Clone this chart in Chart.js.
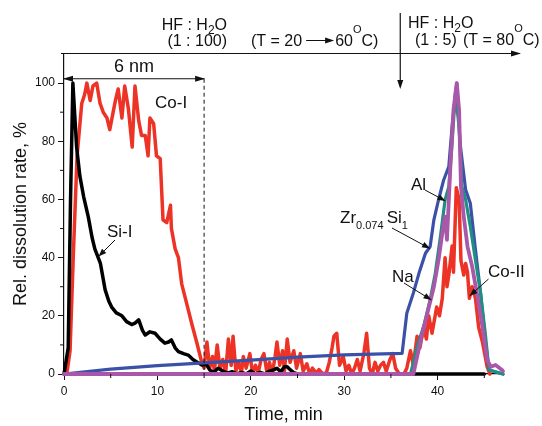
<!DOCTYPE html>
<html><head><meta charset="utf-8">
<script src="https://cdn.jsdelivr.net/npm/chart.js@4.4.1/dist/chart.umd.min.js"></script>
<style>html,body{margin:0;padding:0;background:#fff}canvas{display:block}</style>
</head><body>
<canvas id="c" width="542" height="426"></canvas>
<script>
// ---- data (time in min, relative dissolution rate in %) ----
const xTicks = [0, 10, 20, 30, 40];
const xMinorTicks = [5, 15, 25, 35, 45];
const yTicks = [0, 20, 40, 60, 80, 100];
const yMinorTicks = [10, 30, 50, 70, 90];

const siTime = [0, 0.45, 0.7, 0.95, 1.35, 1.7, 2.1, 2.6, 3.0, 3.3,
  3.9, 4.4, 4.8, 5.1, 5.6, 6.2, 6.7, 7.25, 7.6, 8.0,
  8.4, 8.7, 9.2, 9.75, 10.3, 10.8, 11.2, 11.5, 11.9, 12.25,
  12.8, 13.3, 13.8, 14.3, 14.75, 15.2, 15.6, 16.0, 16.5, 17.0,
  17.5, 18.0, 18.5, 19.0, 19.5, 20.0, 20.5, 21.0, 21.5, 22.0,
  22.5, 22.8, 23.2, 23.6, 23.9, 24.2, 24.6, 25.0, 45.0];
const siRate = [0, 9, 60, 100, 78, 68, 61, 54, 47, 43,
  38, 29, 25, 23, 21, 20, 18, 17, 17.5, 18.6,
  15, 13.4, 14.5, 14, 12, 10.6, 11, 11.7, 9, 7.7,
  7, 6.5, 5, 4, 3.1, 3.5, 1.4, 0.5, 2, 1,
  0.3, 0.8, 0, 0.5, 0, 1, 0, 0.5, 0, 1,
  1.5, 2, 0.8, 2.5, 2.5, 1.5, 0.5, 0, 0];

const coTime = [0, 0.3, 0.65, 1.0, 1.4, 1.9, 2.2, 2.45, 2.8, 3.1,
  3.5, 3.86, 4.2, 4.6, 4.9, 5.2, 5.5, 5.8, 6.2, 6.5,
  6.9, 7.3, 7.6, 8.0, 8.3, 8.7, 9.0, 9.2, 9.6, 9.9,
  10.3, 10.6, 11.0, 11.4, 11.5, 11.9, 12.25, 12.6, 13.15, 13.7,
  14.2, 14.75, 15.0, 15.3, 15.6, 15.9, 16.1, 16.4, 16.7, 17.0,
  17.3, 17.6, 17.9, 18.1, 18.4, 18.7, 19.0, 19.2, 19.5, 19.9,
  20.2, 20.5, 20.8, 21.1, 21.4, 21.7, 22.0, 22.3, 22.6, 22.8,
  23.1, 23.4, 23.6, 23.9, 24.2, 24.6, 24.9, 25.3, 25.6, 26.0,
  26.3, 26.6, 27.0, 27.3, 27.7, 28.1, 28.4, 28.7, 28.9, 29.2,
  29.5, 29.9, 30.2, 30.5, 30.8, 31.1, 31.4, 31.7, 32.1, 32.4,
  32.7, 33.0, 33.3, 33.6, 33.9, 34.2, 34.5, 34.9, 35.2, 35.5,
  35.8, 36.0, 36.4, 36.7, 37.1, 37.4, 37.8, 38.1, 38.5, 38.8,
  39.05, 39.4, 39.9, 40.2, 40.5, 40.8, 41.0, 41.2, 41.55, 41.7,
  42.0, 42.3, 42.5, 42.8, 43.0, 43.2, 43.4, 43.7, 44.05, 44.4,
  44.8, 45.3, 45.6];
const coRate = [0, 0, 8, 41, 75, 93, 96, 100, 94, 99,
  100, 93, 90, 88, 84, 89, 94, 98, 88, 99,
  91, 78, 99, 87, 82, 82, 75, 88, 86, 75,
  74, 53, 52, 58, 50, 43, 40, 31, 24, 17,
  11, 4, 2, 11, 2, 6, 1, 10, 2, 5,
  0, 12, 3, 13, 1, 4, 0.5, 6, 2, 7,
  0, 3, 0.5, 5, 7, 1, 4, 0, 6, 11,
  3, 8, 1, 12, 4, 8, 2, 7, 1, 3.5,
  0, 2, 0.3, 1.5, 0, 0.5, 4, 9, 13, 14,
  3, 6, 1, 3, 0, 2, 5, 1, 7, 14,
  2, 0, 4, 1, 3, 4, 1, 5, 7, 2,
  0.5, 0, 0, 2, 8, 3, 13, 9, 16, 12,
  20, 14, 23, 20, 26, 40, 30, 34, 44, 35,
  64, 60, 39, 34, 38, 35, 26, 30, 26, 16,
  11, 2.5, 0];

const zrTime = [0, 5, 10, 15, 20, 25, 30, 36.2, 36.7, 37.4,
  38.0, 38.7, 39.2, 39.6, 40.1, 40.65, 41.2, 41.55, 42.05, 42.4,
  43.0, 43.5, 44.05, 44.6, 45.1, 45.5, 47];
const zrRate = [0, 1.7, 2.9, 3.8, 4.8, 5.8, 6.6, 7.1, 20.9, 27.8,
  34.6, 41.5, 43.8, 53, 59.9, 66.7, 71.3, 85, 100, 79.4,
  63.3, 58.7, 42.7, 27.8, 11.7, 1.4, 0];

const alTime = [0, 37.1, 37.8, 38.5, 39.2, 39.75, 40.3, 40.8, 41.2, 41.55,
  41.9, 42.3, 42.6, 43.0, 43.5, 44.05, 44.6, 45.1, 45.5, 47];
const alRate = [0, 0, 9.4, 16.3, 25.5, 34.6, 47.2, 59.9, 64.4, 79.4,
  96.6, 85, 64.4, 59.9, 50.7, 39.2, 27.8, 14, 1.4, 0];

const naTime = [0, 37.4, 38.2, 38.9, 39.6, 40.1, 40.5, 40.8, 41.0, 41.4,
  41.7, 42.05, 42.3, 42.5, 42.8, 43.2, 43.7, 44.2, 44.8, 45.3,
  45.7, 46.2, 46.9, 47];
const naRate = [0, 0, 11.7, 20.9, 30, 39.2, 48.4, 54.1, 46.1, 73.6,
  90.8, 100, 90.8, 64.4, 54.1, 43.8, 36.9, 27.8, 16.3, 4.8,
  2.5, 3.1, 1.4, 1];

function pts(t, v) { return t.map((x, i) => ({x: x, y: v[i]})); }

const FONT = "'Liberation Sans', Arial, sans-serif";
const INK = '#111';

function line(ctx, x1, y1, x2, y2, w) {
  ctx.beginPath(); ctx.lineWidth = w || 1; ctx.moveTo(x1, y1); ctx.lineTo(x2, y2); ctx.stroke();
}
function head(ctx, x1, y1, x2, y2, len, half) {
  const a = Math.atan2(y2 - y1, x2 - x1);
  ctx.beginPath();
  ctx.moveTo(x2, y2);
  ctx.lineTo(x2 - len * Math.cos(a) + half * Math.sin(a), y2 - len * Math.sin(a) - half * Math.cos(a));
  ctx.lineTo(x2 - len * Math.cos(a) - half * Math.sin(a), y2 - len * Math.sin(a) + half * Math.cos(a));
  ctx.closePath(); ctx.fill();
}
function arrow(ctx, x1, y1, x2, y2) {
  line(ctx, x1, y1, x2, y2, 1);
  head(ctx, x1, y1, x2, y2, 8, 3);
}
// runs: [text, size, dy]
function runsWidth(ctx, runs) {
  let w = 0;
  runs.forEach(r => { ctx.font = r[1] + 'px ' + FONT; w += ctx.measureText(r[0]).width; });
  return w;
}
function drawRuns(ctx, x, y, runs, align) {
  if (align === 'right') x -= runsWidth(ctx, runs);
  ctx.textAlign = 'left'; ctx.textBaseline = 'alphabetic';
  runs.forEach(r => {
    ctx.font = r[1] + 'px ' + FONT;
    ctx.fillText(r[0], x, y + (r[2] || 0));
    x += ctx.measureText(r[0]).width;
  });
  return x;
}

const annot = {
  id: 'annot',
  afterDatasetsDraw(chart) {
    const ctx = chart.ctx, xs = chart.scales.x, ys = chart.scales.y, ca = chart.chartArea;
    ctx.save();
    ctx.strokeStyle = INK; ctx.fillStyle = INK;
    // minor ticks
    xMinorTicks.forEach(v => { const p = xs.getPixelForValue(v); line(ctx, p, ca.bottom, p, ca.bottom + 4, 1); });
    yMinorTicks.forEach(v => { const p = ys.getPixelForValue(v); line(ctx, ca.left - 4, p, ca.left, p, 1); });
    // top time arrow
    const topY = ca.top - 0.5;
    line(ctx, ca.left - 3, topY, 520, topY, 1.2);
    head(ctx, 500, topY, 521, topY, 10, 3);
    // change-of-solution arrow
    const xs36 = xs.getPixelForValue(36);
    line(ctx, xs36, 13, xs36, 86, 1.2);
    head(ctx, xs36, 60, xs36, 89, 9, 3);
    // 6 nm dimension
    const y6 = ys.getPixelForValue(101.5);
    const x0 = xs.getPixelForValue(0), x15 = xs.getPixelForValue(15);
    line(ctx, x0, y6, x15, y6, 1.2);
    head(ctx, x15, y6, x0 - 1, y6, 10, 3);
    head(ctx, x0, y6, x15 + 1, y6, 10, 3);
    ctx.save(); ctx.setLineDash([4, 3]);
    line(ctx, x15, y6, x15, ys.getPixelForValue(0), 1);
    ctx.restore();
    ctx.font = '18px ' + FONT; ctx.textAlign = 'center'; ctx.textBaseline = 'alphabetic';
    ctx.fillText('6 nm', (x0 + x15) / 2, 72);
    // top texts
    drawRuns(ctx, 227, 30, [['HF : H', 16], ['2', 12, 4], ['O', 16]], 'right');
    drawRuns(ctx, 227, 46, [['(1 : 100)', 16]], 'right');
    let xe = drawRuns(ctx, 251, 46, [['(T = 20', 16]]);
    const ax1 = xe + 4, ax2 = ax1 + 28;
    line(ctx, ax1, 40.5, ax2 - 4, 40.5, 1);
    head(ctx, ax1, 40.5, ax2, 40.5, 9, 3);
    drawRuns(ctx, ax2 + 1, 46, [['60', 16], ['O', 11, -13], ['C)', 16]]);
    drawRuns(ctx, 408, 28, [['HF : H', 16], ['2', 12, 4], ['O', 16]]);
    drawRuns(ctx, 415, 45, [['(1 : 5)', 16]]);
    drawRuns(ctx, 463, 45, [['(T = 80', 16], ['O', 11, -13], ['C)', 16]]);
    // series labels
    drawRuns(ctx, 155, 108, [['Co-I', 17]]);
    drawRuns(ctx, 107, 237, [['Si-I', 17]]);
    arrow(ctx, 115, 240, 98.5, 256.5);
    drawRuns(ctx, 411, 190, [['Al', 17]]);
    arrow(ctx, 425, 190, 445.5, 201);
    drawRuns(ctx, 340, 223, [['Zr', 17], ['0.074', 11, 6], [' ', 11], ['Si', 17], ['1', 11, 6]]);
    arrow(ctx, 392, 228, 430, 248.5);
    drawRuns(ctx, 392, 281.5, [['Na', 17]]);
    arrow(ctx, 404, 283, 431.5, 300);
    drawRuns(ctx, 488, 276.5, [['Co-II', 17]]);
    arrow(ctx, 488.5, 279, 469.5, 296);
    ctx.restore();
  }
};

const common = {pointRadius: 0, borderJoinStyle: 'round', borderCapStyle: 'round', tension: 0, fill: false, clip: 6};

new Chart(document.getElementById('c'), {
  type: 'line',
  data: {
    datasets: [
      Object.assign({label: 'Na', data: pts(naTime, naRate), borderColor: '#a957a9', borderWidth: 3.8}, common),
      Object.assign({label: 'Al', data: pts(alTime, alRate), borderColor: '#1f8f82', borderWidth: 3.2}, common),
      Object.assign({label: 'Zr0.074Si1', data: pts(zrTime, zrRate), borderColor: '#3b51a8', borderWidth: 3.2}, common),
      Object.assign({label: 'Si-I', data: pts(siTime, siRate), borderColor: '#000000', borderWidth: 3.5}, common),
      Object.assign({label: 'Co', data: pts(coTime, coRate), borderColor: '#ec3326', borderWidth: 3.5}, common)
    ]
  },
  options: {
    responsive: false,
    animation: false,
    devicePixelRatio: 1,
    layout: {padding: {top: 54, right: 39, left: 0, bottom: 0}},
    plugins: {legend: {display: false}, tooltip: {enabled: false}},
    scales: {
      x: {
        type: 'linear', min: 0, max: 47,
        afterBuildTicks: s => { s.ticks = xTicks.map(v => ({value: v})); },
        afterFit: s => { s.height = 52; },
        ticks: {color: INK, font: {family: FONT, size: 12}, padding: 4, maxRotation: 0},
        grid: {display: true, drawOnChartArea: false, drawTicks: true, tickLength: 6, color: INK, lineWidth: 1},
        border: {display: true, color: INK, width: 1.2},
        title: {display: true, text: 'Time, min', color: INK, font: {family: FONT, size: 18}, padding: {top: 0, bottom: 0}}
      },
      y: {
        type: 'linear', min: 0, max: 110,
        afterBuildTicks: s => { s.ticks = yTicks.map(v => ({value: v})); },
        afterFit: s => { s.width = 64; },
        ticks: {color: INK, font: {family: FONT, size: 12}, padding: 3},
        grid: {display: true, drawOnChartArea: false, drawTicks: true, tickLength: 6, color: INK, lineWidth: 1},
        border: {display: true, color: INK, width: 1.2},
        title: {display: true, text: 'Rel. dissolution rate, %', color: INK, font: {family: FONT, size: 18}, padding: {top: 10, bottom: 0}}
      }
    }
  },
  plugins: [annot]
});
</script>
</body></html>
